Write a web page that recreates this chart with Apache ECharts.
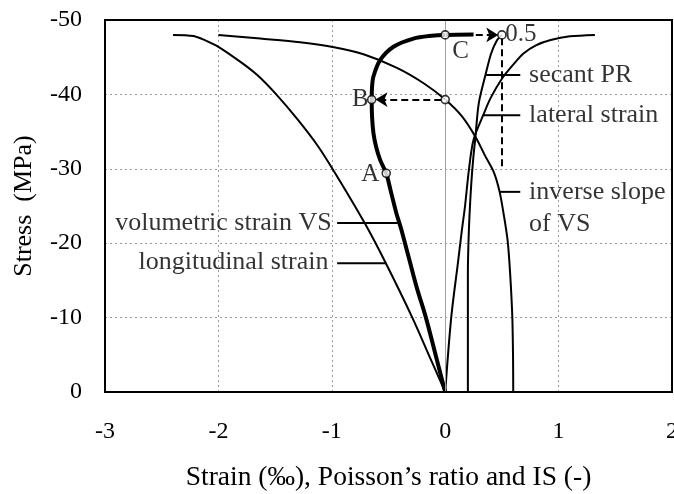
<!DOCTYPE html>
<html>
<head>
<meta charset="utf-8">
<title>Stress-strain response</title>
<script src="https://cdn.jsdelivr.net/npm/echarts@6/dist/echarts.min.js"></script>
<style>
  html, body { margin: 0; padding: 0; background: #fff; }
  #chart { width: 674px; height: 494px; }
</style>
</head>
<body>
<div id="chart"></div>
<script>
// Axis ticks
const xTicks = [-3, -2, -1, 0, 1, 2];
const yTicks = [-50, -40, -30, -20, -10, 0];

// Curves: [strain or ratio, stress (MPa)]
const longitudinal = [
  [0, 0], [-0.145, -5], [-0.29, -10], [-0.53, -17.5], [-0.71, -22.7],
  [-0.95, -28.9], [-1.12, -33], [-1.3, -36.6], [-1.49, -40],
  [-1.65, -42.5], [-1.79, -44.2], [-2.0, -46.4], [-2.12, -47.3],
  [-2.22, -47.85], [-2.4, -48]
];
const volumetric = [
  [0, 0], [-0.085, -5], [-0.17, -10], [-0.25, -14], [-0.32, -18],
  [-0.39, -22], [-0.43, -24], [-0.48, -27], [-0.52, -29.4],
  [-0.574, -31.2], [-0.61, -33], [-0.633, -34.8], [-0.645, -37],
  [-0.648, -39.3], [-0.645, -41], [-0.633, -42.4], [-0.574, -44.6],
  [-0.456, -46.4], [-0.28, -47.5], [-0.12, -47.88], [0, -48], [0.25, -48.05]
];
const inverseSlope = [
  [0.6, 0], [0.598, -5], [0.592, -10], [0.58, -14], [0.565, -17.7],
  [0.55, -20.4], [0.52, -23.5], [0.48, -26.9], [0.43, -29.5],
  [0.35, -31.8], [0.27, -34.2], [0.15, -37], [0, -39.3], [-0.19, -41.5],
  [-0.43, -43.6], [-0.72, -45.4], [-0.98, -46.35], [-1.28, -47.0],
  [-1.63, -47.5], [-2.0, -48]
];
const secantPR = [
  [0.2, 0], [0.2, -10], [0.2, -16], [0.205, -20], [0.215, -24],
  [0.23, -28], [0.248, -31.5], [0.265, -34], [0.296, -38.8],
  [0.355, -42.6], [0.405, -45.5], [0.458, -47.3], [0.5, -48]
];
const lateral = [
  [0, 0], [0.053, -10], [0.115, -17.7], [0.145, -21.5], [0.175, -25],
  [0.21, -30], [0.25, -33.9], [0.335, -37.2], [0.4, -39.5], [0.5, -42.1],
  [0.6, -44], [0.69, -45.5], [0.8, -46.6], [0.93, -47.3], [1.1, -47.8],
  [1.32, -48]
];

// Marked points
const markedPoints = [[-0.52, -29.4], [-0.648, -39.3], [0, -48], [0, -39.3], [0.5, -48]];

// Leader segments joining the curve names to their curves
const leaders = [
  [[-0.953, -22.7], [-0.41, -22.7]],
  [[-0.953, -17.3], [-0.52, -17.3]],
  [[0.355, -42.6], [0.662, -42.6]],
  [[0.335, -37.2], [0.662, -37.2]],
  [[0.48, -26.9], [0.662, -26.9]]
];

// Text notes: [x, y, text, side]
const notes = [
  [-1.0, -22.7, 'volumetric strain VS', 'left'],
  [-1.03, -17.4, 'longitudinal strain', 'left'],
  [0.74, -42.6, 'secant PR', 'right'],
  [0.74, -37.2, 'lateral strain', 'right'],
  [0.74, -26.9, 'inverse slope', 'right'],
  [0.74, -22.5, 'of VS', 'right'],
  [-0.58, -29.3, 'A', 'left'],
  [-0.675, -39.3, 'B', 'left'],
  [0.135, -45.8, 'C', 'inside'],
  [0.53, -48, '0.5', 'right']
];

// Dashed guides: B-arrow, C-arrow, PR = 0.5 drop line
const arrowB = [[-0.035, -39.3], [-0.615, -39.3]];
const arrowC = [[0.27, -48], [0.468, -48]];
const dropLine = [[0.5, -47.55], [0.5, -30]];

const FONT = '"Liberation Serif", "Times New Roman", serif';

const curve = (name, data, width) => ({
  name, type: 'line', data, showSymbol: false, smooth: 0.3,
  lineStyle: { color: '#000', width: width || 2 }, z: 3, silent: true
});

const chart = echarts.init(document.getElementById('chart'), null, { renderer: 'canvas' });

chart.setOption({
  animation: false,
  backgroundColor: '#fff',
  grid: {
    left: 105, right: 2, top: 20, bottom: 102, outerBoundsMode: 'none', containLabel: false,
    show: true, borderColor: '#000', borderWidth: 2, backgroundColor: 'transparent', z: 10
  },
  xAxis: {
    type: 'value', min: xTicks[0], max: xTicks[xTicks.length - 1], interval: 1,
    axisLine: { show: false }, axisTick: { show: false },
    axisLabel: { fontFamily: FONT, fontSize: 24, color: '#000', margin: 28 },
    splitLine: { show: true, lineStyle: { color: '#9a9a9a', type: [2, 3], width: 1 } },
    name: 'Strain (‰), Poisson’s ratio and IS (-)',
    nameLocation: 'middle', nameGap: 72,
    nameTextStyle: { fontFamily: FONT, fontSize: 27.5, color: '#000' }
  },
  yAxis: {
    type: 'value', min: yTicks[0], max: yTicks[yTicks.length - 1], interval: 10, inverse: true,
    axisLine: { show: false }, axisTick: { show: false },
    axisLabel: { fontFamily: FONT, fontSize: 24, color: '#000', margin: 23 },
    splitLine: { show: true, lineStyle: { color: '#9a9a9a', type: [2, 3], width: 1 } },
    name: 'Stress  (MPa)',
    nameLocation: 'middle', nameGap: 68,
    nameTextStyle: { fontFamily: FONT, fontSize: 26, color: '#000' }
  },
  series: [
    {
      name: 'zero', type: 'line', data: [], silent: true, z: 1,
      markLine: {
        silent: true, symbol: ['none', 'none'], label: { show: false },
        lineStyle: { color: '#a0a0a0', type: 'solid', width: 1 },
        data: [{ xAxis: 0 }]
      }
    },
    curve('longitudinal strain', longitudinal),
    curve('lateral strain', lateral),
    curve('secant PR', secantPR),
    curve('inverse slope of VS', inverseSlope),
    curve('volumetric strain VS', volumetric, 4),
    ...leaders.map((seg, i) => ({
      name: 'leader' + i, type: 'line', data: seg, showSymbol: false, silent: true,
      lineStyle: { color: '#000', width: 2 }, z: 3
    })),
    {
      name: 'guides', type: 'line', data: [], silent: true, z: 4,
      markLine: {
        silent: true, label: { show: false }, animation: false,
        lineStyle: { color: '#000', type: [7, 4], width: 2 },
        symbolSize: [11, 12],
        data: [
          [{ coord: arrowB[0], symbol: 'none' }, { coord: arrowB[1], symbol: 'arrow' }],
          [{ coord: arrowC[0], symbol: 'none' }, { coord: arrowC[1], symbol: 'arrow' }],
          [{ coord: dropLine[0], symbol: 'none' }, { coord: dropLine[1], symbol: 'none' }]
        ]
      }
    },
    {
      name: 'points', type: 'scatter', data: markedPoints, symbol: 'circle', symbolSize: 8,
      itemStyle: { color: '#fff', borderColor: '#000', borderWidth: 1.6 }, z: 6, silent: true
    },
    {
      name: 'notes', type: 'scatter', symbolSize: 0, silent: true, z: 7,
      data: notes.map(n => ({
        value: [n[0], n[1]],
        label: {
          show: true, formatter: n[2], position: n[3], distance: 0,
          fontFamily: FONT, fontSize: n[2].length <= 3 ? 25 : 26, color: '#000'
        }
      }))
    }
  ]
});
</script>
</body>
</html>
